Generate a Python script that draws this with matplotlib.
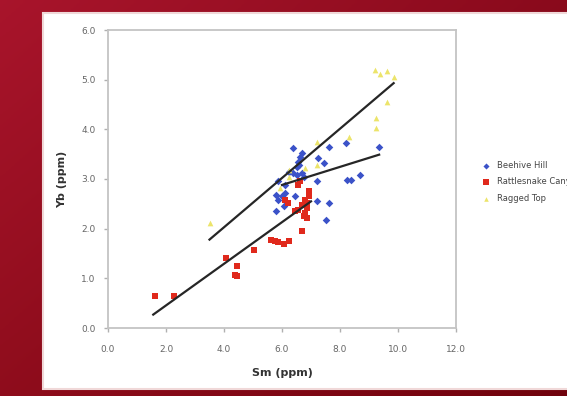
import numpy as np
import matplotlib
matplotlib.use("Agg")
import matplotlib.pyplot as plt
from matplotlib.patches import Rectangle

# ── data ───────────────────────────────────────────────────────
beehive_sm = [6.37, 5.87, 5.81, 5.87, 5.81, 6.00, 6.12, 6.06, 6.25, 6.37,
              6.50, 6.56, 6.62, 6.69, 6.60, 6.50, 6.69, 6.44, 7.19, 7.19,
              7.25, 7.44, 7.62, 7.62, 7.50, 8.19, 8.25, 8.37, 8.69, 9.35,
              6.12, 6.75]
beehive_yb = [3.62, 2.95, 2.68, 2.58, 2.35, 2.65, 2.71, 2.45, 3.15, 3.12,
              3.25, 3.35, 3.45, 3.52, 3.28, 3.08, 3.12, 2.65, 2.95, 2.55,
              3.42, 3.32, 3.65, 2.51, 2.18, 3.72, 2.98, 2.98, 3.08, 3.65,
              2.88, 3.05]

rattle_sm = [1.62, 2.27, 4.06, 4.44, 4.37, 4.44, 5.04, 5.62, 5.75, 5.87,
             6.06, 6.25, 6.69, 6.12, 6.19, 6.44, 6.56, 6.69, 6.81, 6.94,
             6.94, 6.87, 6.81, 6.87, 6.75, 6.56, 6.62, 6.87]
rattle_yb = [0.64, 0.64, 1.41, 1.24, 1.07, 1.04, 1.58, 1.78, 1.76, 1.74,
             1.69, 1.76, 1.96, 2.58, 2.51, 2.35, 2.38, 2.48, 2.58, 2.65,
             2.75, 2.51, 2.31, 2.21, 2.25, 2.88, 2.95, 2.41]

ragged_sm = [3.50, 5.94, 6.25, 6.81, 7.19, 7.19, 8.31, 9.25, 9.25, 9.62,
             9.19, 9.37, 9.62, 9.87, 6.25]
ragged_yb = [2.12, 2.82, 3.05, 3.22, 3.75, 3.28, 3.85, 4.02, 4.22, 4.56,
             5.19, 5.11, 5.18, 5.06, 3.18]

# trend line end points (Sm, Yb)
trend_ragged_x = [3.5, 9.85];  trend_ragged_y = [1.78, 4.93]
trend_beehive_x = [6.0, 9.35]; trend_beehive_y = [2.88, 3.49]
trend_rattle_x = [1.56, 7.0];  trend_rattle_y = [0.27, 2.55]

x_ticks = [0, 2, 4, 6, 8, 10, 12]
y_ticks = [0, 1, 2, 3, 4, 5, 6]

BLUE = '#3b52c8'
RED = '#e0291c'
YELLOW = '#ece46a'
GRAY = '#666666'

fig = plt.figure(figsize=(5.67, 3.96), dpi=100)

# red gradient backdrop
bg = fig.add_axes([0, 0, 1, 1], zorder=-2)
gx = np.linspace(0, 1, 200)
gy = np.linspace(0, 1, 100)[:, None]
r = 0.66 - 0.12 * gx - 0.10 * (1 - gy)
g = 0.08 - 0.04 * gx - 0.03 * (1 - gy)
b = 0.17 - 0.06 * gx - 0.06 * (1 - gy)
bg.imshow(np.dstack([r, g * np.ones_like(r), b * np.ones_like(r)]).clip(0, 1),
          aspect='auto', extent=[0, 1, 0, 1], origin='lower')
bg.set_axis_off()

# white card
fig.patches.append(Rectangle((43/567, 7/396), 1.0, 376/396,
                             transform=fig.transFigure, facecolor='white',
                             edgecolor='#f0d8d8', lw=1.5, zorder=-1))

ax = fig.add_axes([108/567, 68/396, 348/567, 298/396])
ax.set_facecolor('white')

ax.plot(trend_ragged_x, trend_ragged_y, color='#262626', lw=1.6, zorder=4)
ax.plot(trend_beehive_x, trend_beehive_y, color='#262626', lw=1.6, zorder=4)
ax.plot(trend_rattle_x, trend_rattle_y, color='#262626', lw=1.6, zorder=4)

ax.scatter(beehive_sm, beehive_yb, marker='D', s=15, color=BLUE,
           label='Beehive Hill', zorder=3, linewidths=0)
ax.scatter(rattle_sm, rattle_yb, marker='s', s=22, color=RED,
           label='Rattlesnake Canyon', zorder=3, linewidths=0)
ax.scatter(ragged_sm, ragged_yb, marker='^', s=17, color=YELLOW,
           label='Ragged Top', zorder=3, linewidths=0)

ax.set_xlim(0, 12)
ax.set_ylim(0, 6)
ax.set_xticks(x_ticks)
ax.set_xticklabels([f'{v:.1f}' for v in x_ticks])
ax.set_yticks(y_ticks)
ax.set_yticklabels([f'{v:.1f}' for v in y_ticks])
ax.tick_params(labelsize=6.5, colors='#b0b0b0', labelcolor=GRAY,
               length=3, width=1, pad=6)
ax.tick_params(axis='x', pad=9)
for s in ax.spines.values():
    s.set_color('#c4c4c4')
    s.set_linewidth(1.3)

ax.set_xlabel('Sm (ppm)', fontsize=8, fontweight='bold', color='#333333',
              labelpad=10)
ax.set_ylabel('Yb (ppm)', fontsize=8, fontweight='bold', color='#333333',
              labelpad=10)

fig.legend(loc='center left', bbox_to_anchor=(470/567, 214/396),
           frameon=False, fontsize=6, handletextpad=0.3, labelspacing=0.9,
           markerscale=0.8, labelcolor='#444444')

plt.savefig('out.png', dpi=100)
